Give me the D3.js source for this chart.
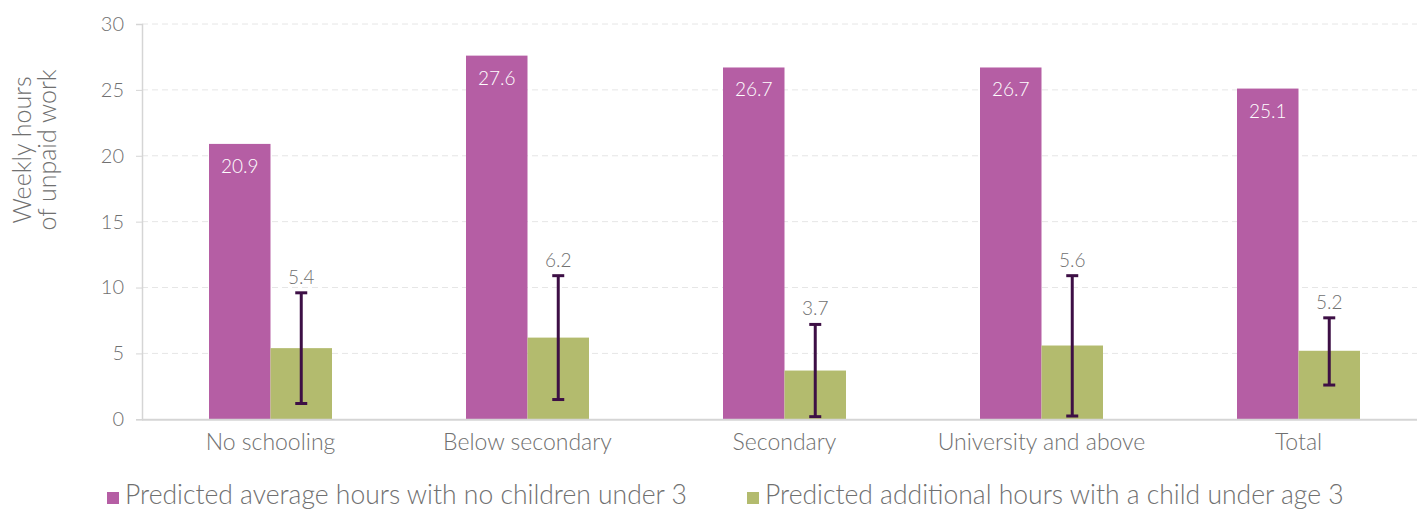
<!DOCTYPE html>
<html><head><meta charset="utf-8">
<script src="https://cdn.jsdelivr.net/npm/d3@7"></script>
<style>
body{margin:0;background:#fff;}
text{font-family:Lato,"Open Sans",sans-serif;font-weight:300;}
</style></head>
<body><svg id="c" width="1417" height="511"></svg>
<script>
const categories = ["No schooling","Below secondary","Secondary","University and above","Total"];
const noChildren = [20.9, 27.6, 26.7, 26.7, 25.1];
const additional = [5.4, 6.2, 3.7, 5.6, 5.2];
const errLow = [1.2, 1.5, 0.2, 0.25, 2.6];
const errHigh = [9.6, 10.9, 7.2, 10.9, 7.7];
const yTicks = [0,5,10,15,20,25,30];
const seriesNames = ["Predicted average hours with no children under 3","Predicted additional hours with a child under age 3"];
const colors = ["#b55ea4","#b3bb6e"];

const svg = d3.select("#c");
const x = d3.scaleBand().domain(categories).range([142,1427]);
const y = d3.scaleLinear().domain([0,30]).range([419.3,24]);
const bw = 61.5;

// grid
svg.append("g").selectAll("line").data(yTicks.filter(d=>d>0)).join("line")
  .attr("x1",142).attr("x2",1417).attr("y1",d=>y(d)).attr("y2",d=>y(d))
  .attr("stroke","#e6e6e6").attr("stroke-width",1).attr("stroke-dasharray","6,4");

// y axis
const ya = svg.append("g").attr("transform","translate(142,0)")
  .call(d3.axisLeft(y).tickValues(yTicks).tickSize(6).tickPadding(12));
ya.select(".domain").attr("stroke","#d5d5d5").attr("stroke-width",1.5);
ya.selectAll(".tick line").attr("stroke","#d5d5d5");
ya.selectAll(".tick text").attr("fill","#707070").style("font-size","20px").style("font-family","Lato").style("font-weight","300");

// bars
const g = svg.append("g");
categories.forEach((c,i)=>{
  const cx = x(c)+x.bandwidth()/2;
  g.append("rect").attr("x",cx-bw).attr("width",bw).attr("y",y(noChildren[i])).attr("height",y(0)-y(noChildren[i])).attr("fill",colors[0]);
  g.append("rect").attr("x",cx).attr("width",bw).attr("y",y(additional[i])).attr("height",y(0)-y(additional[i])).attr("fill",colors[1]);
  g.append("text").attr("x",cx-bw/2).attr("y",y(noChildren[i])+29).attr("text-anchor","middle")
    .attr("fill","#fff").style("font-size","19px").text(noChildren[i].toFixed(1));
  const ex = cx+bw/2;
  g.append("line").attr("x1",ex).attr("x2",ex).attr("y1",y(errLow[i])).attr("y2",y(errHigh[i])).attr("stroke","#3d0f45").attr("stroke-width",3);
  [errLow[i],errHigh[i]].forEach(v=>g.append("line").attr("x1",ex-6).attr("x2",ex+6).attr("y1",y(v)).attr("y2",y(v)).attr("stroke","#3d0f45").attr("stroke-width",3));
  g.append("text").attr("x",ex).attr("y",y(errHigh[i])-9).attr("text-anchor","middle")
    .attr("fill","#707070").style("font-size","19px").text(additional[i].toFixed(1));
});

// x axis
svg.append("line").attr("x1",142).attr("x2",1417).attr("y1",y(0)+0.5).attr("y2",y(0)+0.5).attr("stroke","#d5d5d5").attr("stroke-width",2);
svg.append("g").selectAll("text").data(categories).join("text")
  .attr("x",d=>x(d)+x.bandwidth()/2).attr("y",450).attr("text-anchor","middle")
  .attr("fill","#707070").style("font-size","23px").text(d=>d);

// y title
const yt = svg.append("text").attr("transform","translate(31,150) rotate(-90)").attr("text-anchor","middle").attr("fill","#707070").style("font-size","25px");
yt.append("tspan").attr("x",0).attr("dy",0).text("Weekly hours");
yt.append("tspan").attr("x",0).attr("dy",25).text("of unpaid work");

// legend
const legX = [107,747];
seriesNames.forEach((n,i)=>{
  svg.append("rect").attr("x",legX[i]).attr("y",492).attr("width",12).attr("height",12).attr("fill",colors[i]);
  svg.append("text").attr("x",legX[i]+18).attr("y",504).attr("fill","#707070").style("font-size","26.5px").text(n);
});
</script></body></html>
